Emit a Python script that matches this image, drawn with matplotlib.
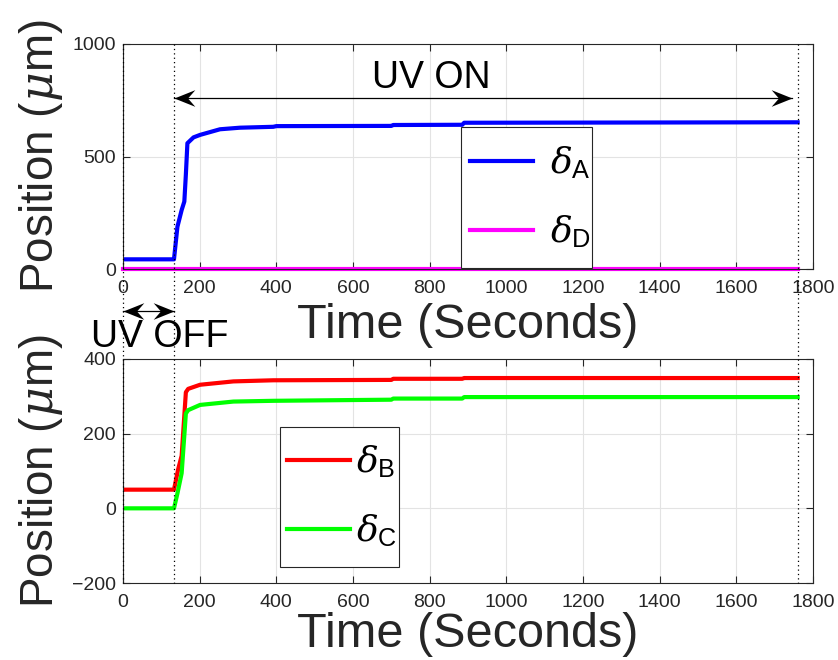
import numpy as np
import matplotlib
matplotlib.use("Agg")
import matplotlib.pyplot as plt
from matplotlib.lines import Line2D
from matplotlib.patches import Rectangle
from matplotlib.transforms import blended_transform_factory

plt.rcParams['font.family'] = ['Liberation Sans', 'DejaVu Sans']
plt.rcParams['mathtext.fontset'] = 'custom'
plt.rcParams['mathtext.rm'] = 'Liberation Sans'
plt.rcParams['mathtext.it'] = 'DejaVu Serif:italic'

# ── data ───────────────────────────────────────────────────────────────────
t_A = [0, 130, 133, 142, 153, 160, 164, 168, 184, 201, 253, 305, 392, 400,
       700, 705, 885, 890, 1760]
d_A = [43, 43, 43, 188, 262, 300, 420, 559, 585, 596, 621, 628, 632, 635,
       636, 640, 641, 650, 652]

t_D = [0, 1760]
d_D = [0, 0]

t_B = [0, 133, 144, 153, 164, 170, 201, 288, 392, 700, 705, 885, 890, 1760]
d_B = [50, 50, 105, 141, 311, 320, 331, 340, 343, 344, 347, 347, 349, 349]

t_C = [0, 133, 142, 153, 164, 170, 201, 288, 392, 592, 700, 705, 885, 890, 1760]
d_C = [0, 0, 40, 94, 254, 263, 277, 286, 288, 290, 291, 294, 294, 298, 298]

xticks = list(range(0, 1801, 200))
yticks_top = [0, 500, 1000]
yticks_bot = [-200, 0, 200, 400]

t_uv_on = 133      # UV switched on
t_end = 1760       # end of recording

DARK = '0.15'

fig = plt.figure(figsize=(8.38, 6.6), dpi=100)
W, H = 838, 660
ax1 = fig.add_axes([123 / W, 1 - 269 / H, 690 / W, 225 / H])
ax2 = fig.add_axes([123 / W, 1 - 583 / H, 690 / W, 224 / H])

# concave (matlab "vback2") arrow heads, tip at the marker centre
HEAD_L = [(0, 0), (2, 0.8), (1.3, 0), (2, -0.8), (0, 0)]
HEAD_R = [(-x, y) for x, y in HEAD_L]


def style(ax, yticks, xlab_y):
    ax.set_xlim(0, 1800)
    ax.set_ylim(yticks[0], yticks[-1])
    ax.set_xticks(xticks)
    ax.set_yticks(yticks)
    ax.tick_params(direction='in', top=True, right=True, length=5,
                   width=0.8, labelsize=14, colors=DARK)
    ax.tick_params(axis='x', pad=8)
    ax.tick_params(axis='y', pad=5)
    ax.grid(True, color='#e3e3e3', lw=0.8)
    ax.set_axisbelow(True)
    for s in ax.spines.values():
        s.set_color(DARK)
        s.set_linewidth(0.8)
    ax.set_xlabel('Time (Seconds)', fontsize=35, color=DARK)
    ax.xaxis.set_label_coords(0.5, xlab_y)
    ax.set_ylabel('Position ($\\mu$m)', fontsize=33, color=DARK)
    ax.yaxis.set_label_coords(-0.084, 0.5)


def legend(ax, box, textpad, dx=0.0):
    # box = (x0, y0, w, h) in axes fraction, drawn like matlab's legend frame
    x0, y0, w, h = box
    ax.add_patch(Rectangle((x0, y0), w, h, transform=ax.transAxes,
                           facecolor='white', edgecolor=DARK, lw=0.8,
                           zorder=4.5))
    ax.legend(loc='center', bbox_to_anchor=(x0 + w / 2 + dx, y0 + h / 2),
              fontsize=26, handlelength=1.75, labelspacing=0.9,
              borderpad=0, handletextpad=textpad, frameon=False)


def double_arrow(ax, x0, x1, y, transform):
    ax.plot([x0, x1], [y, y], color='k', lw=0.9, transform=transform,
            clip_on=False)
    ax.plot([x0], [y], marker=HEAD_L, ms=30, color='k', mew=0,
            transform=transform, clip_on=False)
    ax.plot([x1], [y], marker=HEAD_R, ms=30, color='k', mew=0,
            transform=transform, clip_on=False)


# ── top: delta A / delta D ──────────────────────────────────────────────────
ax1.plot(t_A, d_A, color=(0, 0, 1), lw=3, label='$\\delta_{\\mathrm{A}}$')
ax1.plot(t_D, d_D, color=(1, 0, 1), lw=3, label='$\\delta_{\\mathrm{D}}$',
         clip_on=False)
style(ax1, yticks_top, -0.152)
legend(ax1, (0.4899, 0.0044, 0.1899, 0.6267), 0.47, dx=0.006)

double_arrow(ax1, t_uv_on, 1745, 760, ax1.transData)
ax1.text(803, 849, 'UV ON', fontsize=27, ha='center', va='center')

# ── bottom: delta B / delta C ───────────────────────────────────────────────
ax2.plot(t_B, d_B, color=(1, 0, 0), lw=3, label='$\\delta_{\\mathrm{B}}$')
ax2.plot(t_C, d_C, color=(0, 1, 0), lw=3, label='$\\delta_{\\mathrm{C}}$')
style(ax2, yticks_bot, -0.13)
legend(ax2, (0.2275, 0.0714, 0.1725, 0.625), 0.17, dx=0.004)

# ── dotted markers spanning both panels ────────────────────────────────────
tr = blended_transform_factory(ax1.transData, fig.transFigure)
for tv in [0, t_uv_on, t_end]:
    fig.add_artist(Line2D([tv, tv], [1 - 44 / H, 1 - 583 / H], transform=tr,
                          color='k', lw=0.9, ls=(0, (1, 2.5))))

double_arrow(ax1, 0, t_uv_on, 1 - 311 / H, tr)
fig.text(160 / W, 1 - 337 / H, 'UV OFF', fontsize=27, ha='center',
         va='center')

fig.savefig('out.png', dpi=100)
